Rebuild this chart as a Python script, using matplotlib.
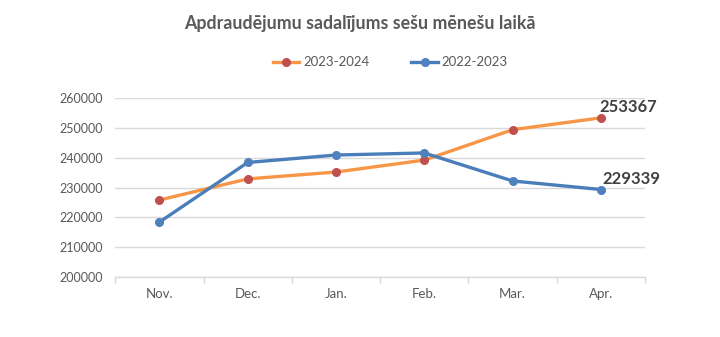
import matplotlib.pyplot as plt
import numpy as np

months = ["Nov.", "Dec.", "Jan.", "Feb.", "Mar.", "Apr."]
season_2023_2024 = [225800, 232900, 235200, 239200, 249400, 253367]
season_2022_2023 = [218400, 238400, 240900, 241600, 232200, 229339]
series_labels = ["2023-2024", "2022-2023"]
y_ticks = [200000, 210000, 220000, 230000, 240000, 250000, 260000]

plt.rcParams['font.family'] = ['Lato', 'DejaVu Sans']

fig = plt.figure(figsize=(7.2, 3.37), dpi=100)
ax = fig.add_axes([0.160, 0.178, 0.736, 0.531])

x = np.arange(len(months))
orange_line, = ax.plot(x, season_2023_2024, color="#F79646", lw=2.4,
                       marker="o", ms=5.5, mfc="#C0504D", mec="#C0504D",
                       label=series_labels[0], zorder=3)
blue_line, = ax.plot(x, season_2022_2023, color="#4A7EBB", lw=2.4,
                     marker="o", ms=5.5, mfc="#4F81BD", mec="#4F81BD",
                     label=series_labels[1], zorder=3)

ax.set_xlim(-0.5, len(months) - 0.5)
ax.set_ylim(y_ticks[0], y_ticks[-1])
ax.set_yticks(y_ticks)
ax.set_yticklabels([str(v) for v in y_ticks])
ax.set_xticks(x)
ax.set_xticklabels(months)
ax.set_xticks(np.arange(-0.5, len(months)), minor=True)

ax.grid(axis="y", color="#D9D9D9", lw=1)
ax.set_axisbelow(True)
for side in ["top", "right", "left"]:
    ax.spines[side].set_visible(False)
ax.spines["bottom"].set_color("#D9D9D9")
ax.spines["bottom"].set_linewidth(1)

ax.tick_params(axis="y", length=0, pad=9, labelsize=9, labelcolor="#595959")
ax.tick_params(axis="x", which="major", length=0, pad=8, labelsize=9.5,
               labelcolor="#595959")
ax.tick_params(axis="x", which="minor", length=4, color="#D9D9D9", width=1)

# value labels at the last month
ax.annotate(str(season_2023_2024[-1]), (x[-1], season_2023_2024[-1]),
            xytext=(-1, 2), textcoords="offset points", ha="left", va="bottom",
            fontsize=12, fontweight="bold", color="#404040")
ax.annotate(str(season_2022_2023[-1]), (x[-1], season_2022_2023[-1]),
            xytext=(1, 2), textcoords="offset points", ha="left", va="bottom",
            fontsize=12, fontweight="bold", color="#404040")

fig.text(0.5, 0.93, "Apdraudējumu sadalījums sešu mēnešu laikā",
         ha="center", va="center", fontsize=12.8, fontweight="bold",
         color="#595959")

fig.legend(handles=[orange_line, blue_line], loc="center",
           bbox_to_anchor=(0.542, 0.815), ncol=2, frameon=False,
           fontsize=9.5, labelcolor="#595959", handlelength=2.0,
           handletextpad=0.3, columnspacing=3.2)

fig.savefig("out.png", dpi=100, facecolor="white")
